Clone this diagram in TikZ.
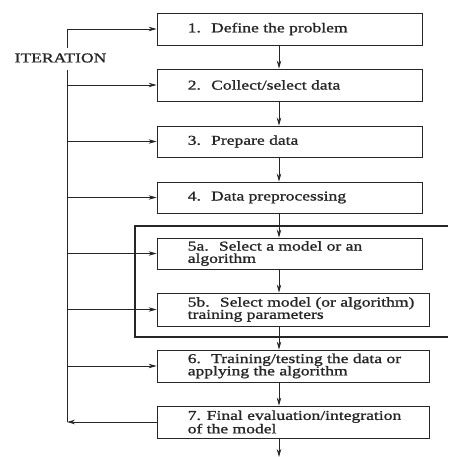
\documentclass[tikz,border=0pt]{standalone}
\usepackage{fontspec}
\setmainfont{Liberation Serif}[FakeStretch=1.3,FakeBold=1.2]
\usetikzlibrary{arrows.meta}
\definecolor{ink}{gray}{0.15}
\begin{document}
\begin{tikzpicture}[x=1pt,y=-1pt,
  box/.style={draw=ink,line width=0.9pt,minimum height=32pt,inner sep=0pt,anchor=center},
  lbl/.style={anchor=west,align=left,inner sep=0pt,text=ink,font=\fontsize{13.5pt}{12.3pt}\selectfont},
  arr/.style={draw=ink,line width=0.7pt,-{Stealth[length=8pt,width=4.5pt]}},
  ln/.style={draw=ink,line width=0.7pt},
  thick box/.style={draw=ink,line width=1.8pt}]
\useasboundingbox (0,0) rectangle (448,457);
\coordinate (ax) at (279,0);
\coordinate (lx) at (67,0);
% boxes
\node[box,minimum width=265pt] (b1) at (289.5,29) {};
\node[box,minimum width=265pt] (b2) at (289.5,85) {};
\node[box,minimum width=265pt,minimum height=31pt] (b3) at (289.5,141.5) {};
\node[box,minimum width=265pt,minimum height=31pt] (b4) at (289.5,197.5) {};
\node[box,minimum width=265pt,minimum height=31pt] (b5a) at (289.5,253.5) {};
\node[box,minimum width=272pt,minimum height=33pt] (b5b) at (293,309.5) {};
\node[box,minimum width=272pt] (b6) at (293,366) {};
\node[box,minimum width=272pt] (b7) at (293,422) {};
% labels
\node[lbl] (t1) at ([xshift=31pt]b1.west) {1.~ Define the problem};
\node[lbl] (t2) at ([xshift=31pt]b2.west) {2.~ Collect/select data};
\node[lbl] (t3) at ([xshift=31pt]b3.west) {3.~ Prepare data};
\node[lbl] (t4) at ([xshift=31pt]b4.west) {4.~ Data preprocessing};
\node[lbl] (t5a) at ([xshift=31pt]b5a.west) {5a.~ Select a model or an\\algorithm};
\node[lbl] (t5b) at ([xshift=31pt]b5b.west) {5b.~ Select model (or algorithm)\\training parameters};
\node[lbl] (t6) at ([xshift=31pt]b6.west) {6.~ Training/testing the data or\\applying the algorithm};
\node[lbl] (t7) at ([xshift=31pt]b7.west) {7. Final evaluation/integration\\of the model};
\node[lbl,anchor=center] (it) at (60.5,58) {ITERATION};
% thick bracket
\coordinate (k1) at (448,226);
\coordinate (k2) at (135,226);
\coordinate (k3) at (135,337);
\coordinate (k4) at (448,337);
\draw[thick box] (k1) -- (k2) -- (k3) -- (k4);
% vertical flow
\draw[arr] (b1.south -| ax) -- (b2.north -| ax);
\draw[arr] (b2.south -| ax) -- (b3.north -| ax);
\draw[arr] (b3.south -| ax) -- (b4.north -| ax);
\draw[arr] (b4.south -| ax) -- (b5a.north -| ax);
\draw[arr] (b5a.south -| ax) -- (b5b.north -| ax);
\draw[arr] (b5b.south -| ax) -- (b6.north -| ax);
\draw[arr] (b6.south -| ax) -- (b7.north -| ax);
\coordinate (end) at (279,457);
\draw[arr] (b7.south -| ax) -- (end);
% iteration loop
\coordinate (ltop) at (67,48);
\coordinate (lmid) at (67,70);
\draw[ln] (ltop) -- (b1.west -| lx);
\draw[arr] (b1.west -| lx) -- (b1.west);
\draw[ln] (lmid) -- (b7.west -| lx);
\draw[arr] (b2.west -| lx) -- (b2.west);
\draw[arr] (b3.west -| lx) -- (b3.west);
\draw[arr] (b4.west -| lx) -- (b4.west);
\draw[arr] (b5a.west -| lx) -- (b5a.west);
\draw[arr] (b5b.west -| lx) -- (b5b.west);
\draw[arr] (b6.west -| lx) -- (b6.west);
\draw[arr] (b7.west) -- (b7.west -| lx);
\end{tikzpicture}
\end{document}
